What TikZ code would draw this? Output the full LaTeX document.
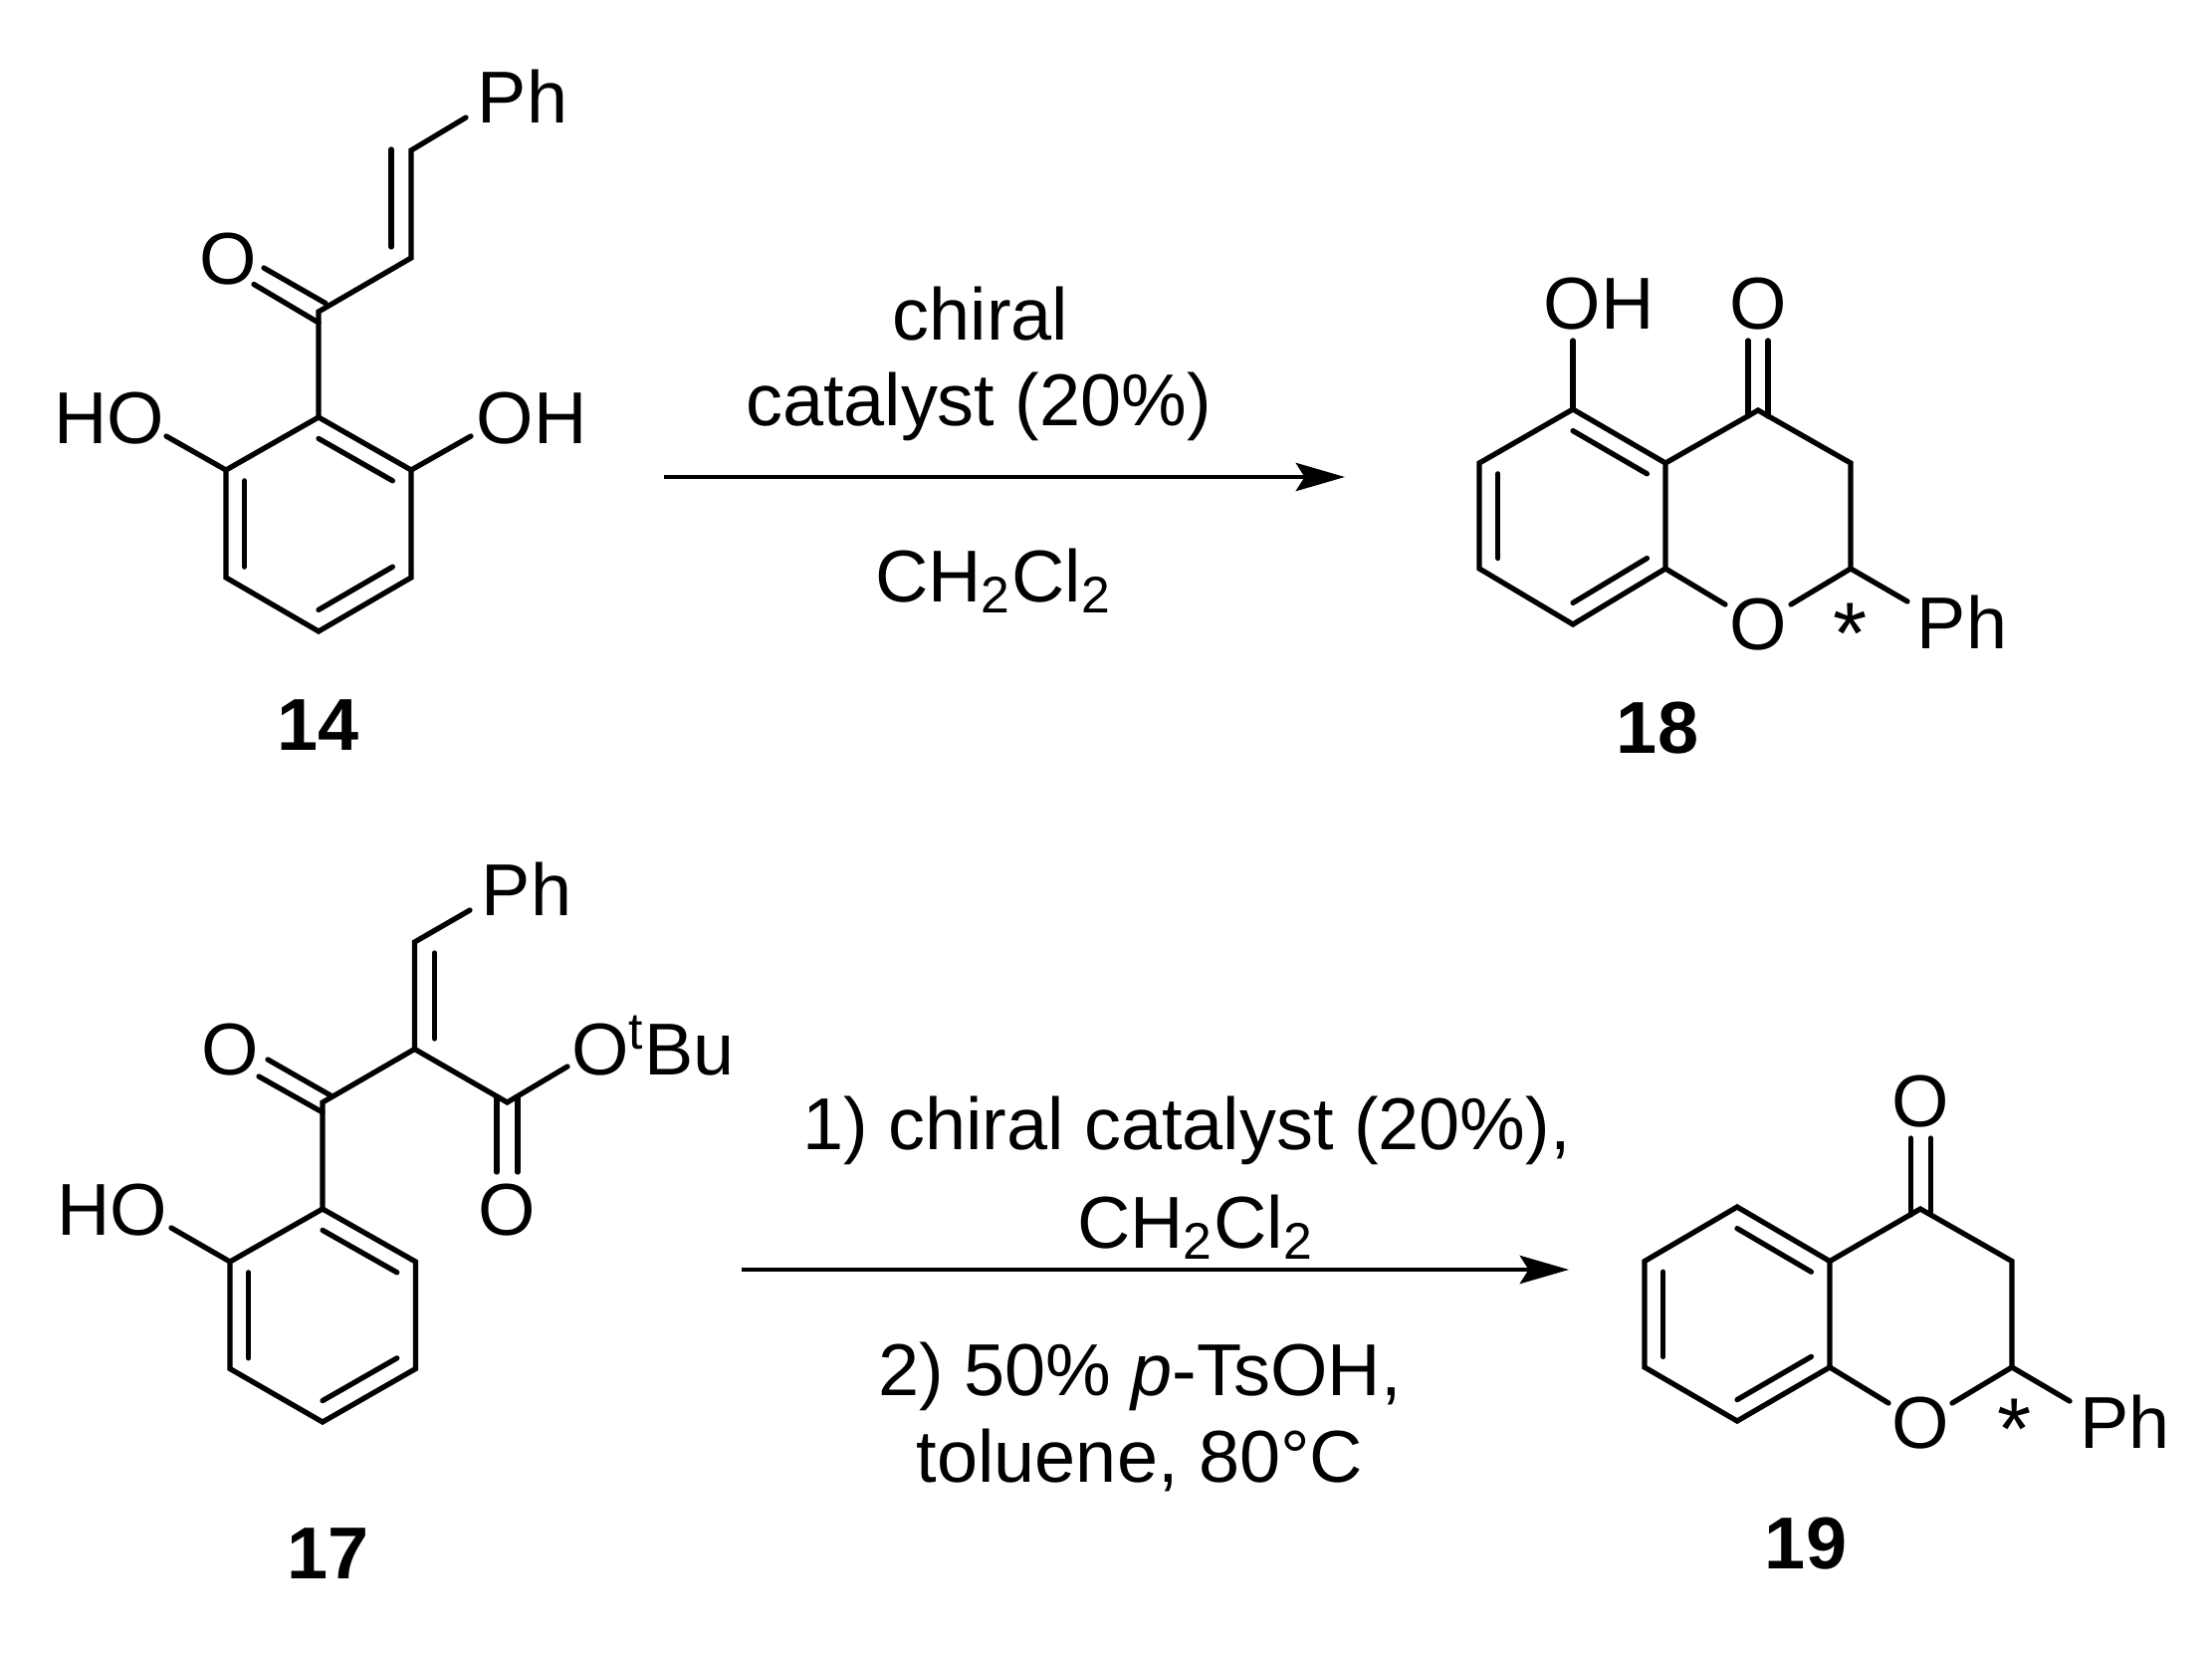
\documentclass[tikz,border=0pt]{standalone}
\usepackage{fontspec}
\setmainfont{Liberation Sans}
\usetikzlibrary{arrows.meta,calc}

\tikzset{
    bond/.style={line width=1.5pt,line cap=round,line join=miter},
    atom/.style={inner sep=0pt,text height=15pt,text depth=0pt,font=\fontsize{21}{25}\selectfont},
    compnum/.style={atom,font=\fontsize{21}{25}\selectfont\bfseries},
    stereo/.style={inner sep=0pt,text height=15pt,text depth=0pt,font=\fontsize{25}{25}\selectfont},
    react/.style={line width=1.4pt,-{Stealth[length=14pt,width=8pt,inset=2.5pt]}}
}

\begin{document}
\begin{tikzpicture}[x=0.01cm,y=-0.01cm]
    \useasboundingbox (0,0) rectangle (2222,1663);

    % compound 14, ring
    \coordinate (a1) at (320,419);
    \coordinate (a2) at (413,472);
    \coordinate (a3) at (413,580);
    \coordinate (a4) at (320,634);
    \coordinate (a5) at (227,580);
    \coordinate (a6) at (227,472);
    \coordinate (ac) at (320,526);
    \draw[bond] (a1) -- (a2) -- (a3) -- (a4) -- (a5) -- (a6) -- cycle;
    \foreach \p/\q in {a1/a2,a3/a4,a5/a6}
        \draw[bond] ($(\p)!.2!(ac)$) -- ($(\q)!.2!(ac)$);
    % side chain
    \coordinate (a7) at (320,313);
    \coordinate (a8) at (413,259);
    \coordinate (a9) at (413,151);
    \coordinate (a9i) at (393,150);
    \coordinate (a8i) at (393,248);
    \coordinate (aph) at (468,118);
    \coordinate (ao1) at (265,269);
    \coordinate (ao2) at (327,304.5);
    \coordinate (ao3) at (255,285.5);
    \coordinate (ao4) at (320,324);
    \coordinate (ahl) at (167,438);
    \coordinate (ahr) at (473,438);
    \draw[bond] (a1) -- (a7) -- (a8) -- (a9) -- (aph);
    \draw[bond] (a8i) -- (a9i);
    \draw[bond] (ao1) -- (ao2);
    \draw[bond] (ao3) -- (ao4);
    \draw[bond] (a6) -- (ahl);
    \draw[bond] (a2) -- (ahr);
    \node[atom] (aphl) at (525,97.5) {Ph};
    \node[atom] (aol) at (229,259) {O};
    \node[atom] (ahol) at (110,419) {HO};
    \node[atom] (aohl) at (534,419) {OH};
    \node[compnum] (n14) at (320,727) {14};

    % compound 18
    \coordinate (b1) at (1580,411);
    \coordinate (b2) at (1673,465);
    \coordinate (b3) at (1673,571);
    \coordinate (b4) at (1580,627);
    \coordinate (b5) at (1486,571);
    \coordinate (b6) at (1486,465);
    \coordinate (bc) at (1580,519);
    \draw[bond] (b1) -- (b2) -- (b3) -- (b4) -- (b5) -- (b6) -- cycle;
    \foreach \p/\q in {b1/b2,b3/b4,b5/b6}
        \draw[bond] ($(\p)!.2!(bc)$) -- ($(\q)!.2!(bc)$);
    \coordinate (b7) at (1766,412);
    \coordinate (b8) at (1859,465);
    \coordinate (b9) at (1859,571);
    \coordinate (bol) at (1733,607);
    \coordinate (bor) at (1799,607);
    \coordinate (bph) at (1916,604);
    \coordinate (boh) at (1580,342);
    \coordinate (bd1) at (1756,342);
    \coordinate (bd2) at (1756,418);
    \coordinate (bd3) at (1776,342);
    \coordinate (bd4) at (1776,418);
    \draw[bond] (b2) -- (b7) -- (b8) -- (b9) -- (bor);
    \draw[bond] (b3) -- (bol);
    \draw[bond] (b9) -- (bph);
    \draw[bond] (b1) -- (boh);
    \draw[bond] (bd1) -- (bd2);
    \draw[bond] (bd3) -- (bd4);
    \node[atom] (bohl) at (1606,304) {OH};
    \node[atom] (bcol) at (1766,304) {O};
    \node[atom] (bol1) at (1766,626) {O};
    \node[stereo] (bstar) at (1859,640) {*};
    \node[atom] (bphl) at (1971,625) {Ph};
    \node[compnum] (n18) at (1665,730) {18};

    % compound 17
    \coordinate (c1) at (324,1214);
    \coordinate (c2) at (417.5,1267);
    \coordinate (c3) at (417.5,1374.5);
    \coordinate (c4) at (324,1428);
    \coordinate (c5) at (231,1374.5);
    \coordinate (c6) at (231,1267);
    \coordinate (cc) at (324,1321);
    \draw[bond] (c1) -- (c2) -- (c3) -- (c4) -- (c5) -- (c6) -- cycle;
    \foreach \p/\q in {c1/c2,c3/c4,c5/c6}
        \draw[bond] ($(\p)!.2!(cc)$) -- ($(\q)!.2!(cc)$);
    \coordinate (c7) at (324,1107);
    \coordinate (c8) at (416.5,1053.5);
    \coordinate (c9) at (416.5,946);
    \coordinate (c10) at (509.5,1107);
    \coordinate (cph) at (472,914);
    \coordinate (c9i) at (436.5,957);
    \coordinate (c8i) at (436.5,1043);
    \coordinate (co1) at (269,1064);
    \coordinate (co2) at (332,1100);
    \coordinate (co3) at (260,1081);
    \coordinate (co4) at (324,1117);
    \coordinate (cd1) at (499,1177);
    \coordinate (cd2) at (499,1101);
    \coordinate (cd3) at (520,1177);
    \coordinate (cd4) at (520,1101);
    \coordinate (coe) at (570,1071);
    \coordinate (cho) at (172,1233);
    \draw[bond] (c1) -- (c7) -- (c8) -- (c10) -- (coe);
    \draw[bond] (c8) -- (c9) -- (cph);
    \draw[bond] (c8i) -- (c9i);
    \draw[bond] (co1) -- (co2);
    \draw[bond] (co3) -- (co4);
    \draw[bond] (cd1) -- (cd2);
    \draw[bond] (cd3) -- (cd4);
    \draw[bond] (c6) -- (cho);
    \node[atom] (cphl) at (529,893.5) {Ph};
    \node[atom] (cotbu) at (656,1053.5) {O\textsuperscript{t}Bu};
    \node[atom] (col) at (231,1053.5) {O};
    \node[atom] (ccol) at (509.5,1214) {O};
    \node[atom] (chol) at (113,1214) {HO};
    \node[compnum] (n17) at (330,1559) {17};

    % compound 19
    \coordinate (d1) at (1745,1212);
    \coordinate (d2) at (1838,1266.5);
    \coordinate (d3) at (1838,1373);
    \coordinate (d4) at (1745,1427);
    \coordinate (d5) at (1652,1373);
    \coordinate (d6) at (1652,1266.5);
    \coordinate (dc) at (1745,1320);
    \draw[bond] (d1) -- (d2) -- (d3) -- (d4) -- (d5) -- (d6) -- cycle;
    \foreach \p/\q in {d1/d2,d3/d4,d5/d6}
        \draw[bond] ($(\p)!.2!(dc)$) -- ($(\q)!.2!(dc)$);
    \coordinate (d7) at (1929,1214);
    \coordinate (d8) at (2021,1266.5);
    \coordinate (d9) at (2021,1373);
    \coordinate (dol) at (1897,1409);
    \coordinate (dor) at (1961,1409);
    \coordinate (dph) at (2079,1407);
    \coordinate (dd1) at (1919.5,1143);
    \coordinate (dd2) at (1919.5,1220);
    \coordinate (dd3) at (1939.5,1143);
    \coordinate (dd4) at (1939.5,1220);
    \draw[bond] (d2) -- (d7) -- (d8) -- (d9) -- (dor);
    \draw[bond] (d3) -- (dol);
    \draw[bond] (d9) -- (dph);
    \draw[bond] (dd1) -- (dd2);
    \draw[bond] (dd3) -- (dd4);
    \node[atom] (dcol) at (1929,1105) {O};
    \node[atom] (dol1) at (1929,1428) {O};
    \node[stereo] (dstar) at (2024,1439) {*};
    \node[atom] (dphl) at (2134.5,1428) {Ph};
    \node[compnum] (n19) at (1814,1549) {19};

    % top reaction
    \coordinate (r1) at (667,479);
    \coordinate (r2) at (1351,479);
    \draw[react] (r1) -- (r2);
    \node[atom] (t1) at (985,315) {chiral};
    \node[atom] (t2) at (983,401) {catalyst (20\%)};
    \node[atom] (t3) at (998,578) {CH\textsubscript{2}Cl\textsubscript{2}};

    % bottom reaction
    \coordinate (r3) at (745,1275);
    \coordinate (r4) at (1576,1275);
    \draw[react] (r3) -- (r4);
    \node[atom] (s1) at (1192,1128) {1) chiral catalyst (20\%),};
    \node[atom] (s2) at (1201,1227) {CH\textsubscript{2}Cl\textsubscript{2}};
    \node[atom] (s3) at (1145,1375) {2) 50\% \textit{p}-TsOH,};
    \node[atom] (s4) at (1145,1462) {toluene, 80°C};
\end{tikzpicture}
\end{document}
